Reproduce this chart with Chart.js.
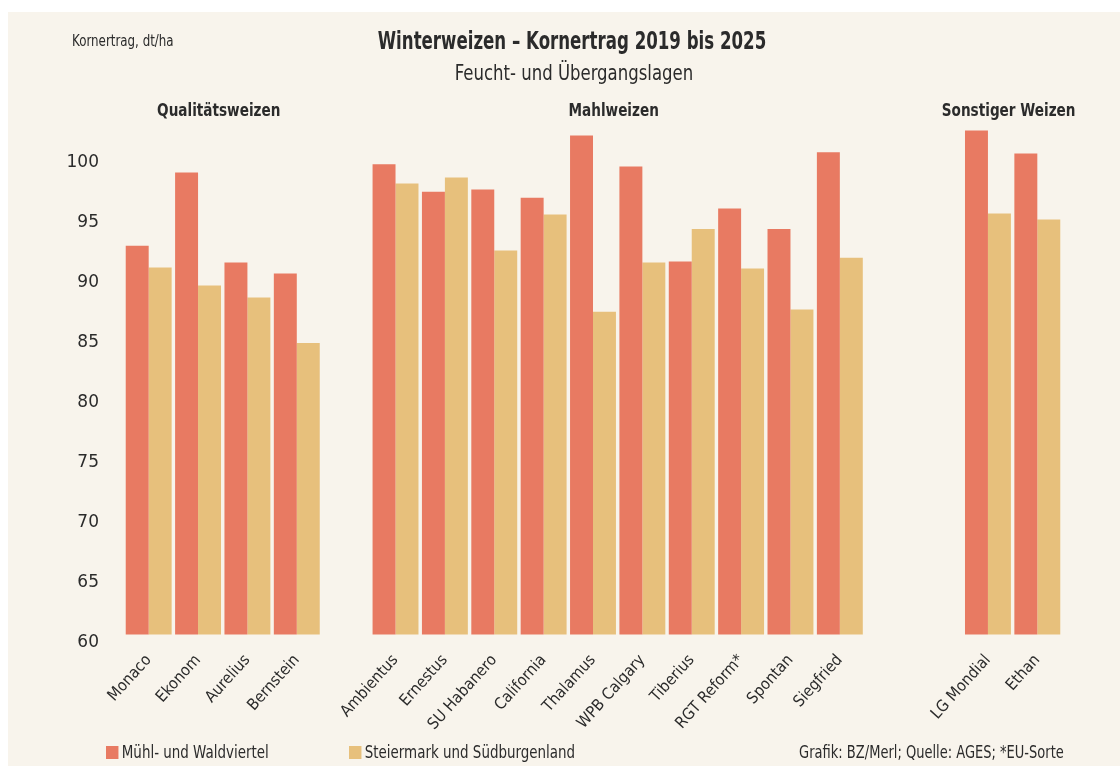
<!DOCTYPE html>
<html>
<head>
<meta charset="utf-8">
<script src="https://cdn.jsdelivr.net/npm/chart.js@4.4.1/dist/chart.umd.min.js"></script>
<style>
  body { margin: 0; background: #fff; }
  #paper { position: absolute; left: 8px; top: 12px; width: 1112px; height: 754px; background: #f8f4ec; }
  #myChart { position: absolute; left: 0; top: 0; }
  .txt { position: absolute; color: #2b2b2b; font-family: 'Liberation Sans Narrow', 'DejaVu Sans Condensed', 'Roboto Condensed', sans-serif; white-space: nowrap; line-height: 1; }
  #title { left: 0; width: 1144px; top: 29px; text-align: center; font-size: 24px; font-weight: bold; transform: scaleX(0.77); }
  #subtitle { left: 0; width: 1148px; top: 62px; text-align: center; font-size: 22px; transform: scaleX(0.835); }
  #unit { left: 72px; top: 34px; font-size: 15px; transform: scaleX(0.88); transform-origin: left; }
  .leg { top: 743px; font-size: 18px; transform: scaleX(0.83); transform-origin: left; }
  .leg span { display: inline-block; width: 15px; height: 13px; margin-right: 4px; vertical-align: -1px; }
  #source { right: 56px; top: 743px; font-size: 18px; transform: scaleX(0.805); transform-origin: right; }
</style>
</head>
<body>
<div id="paper"></div>
<canvas id="myChart" width="1120" height="766"></canvas>
<div class="txt" id="title">Winterweizen – Kornertrag 2019 bis 2025</div>
<div class="txt" id="subtitle">Feucht- und Übergangslagen</div>
<div class="txt" id="unit">Kornertrag, dt/ha</div>
<div class="txt leg" style="left:106px"><span style="background:#e87a62"></span>Mühl- und Waldviertel</div>
<div class="txt leg" style="left:349px"><span style="background:#e7c07c"></span>Steiermark und Südburgenland</div>
<div class="txt" id="source">Grafik: BZ/Merl; Quelle: AGES; *EU-Sorte</div>
<script>
// Sorten, leere Einträge trennen die Gruppen
sorten = ['Monaco', 'Ekonom', 'Aurelius', 'Bernstein', '',
  'Ambientus', 'Ernestus', 'SU Habanero', 'California', 'Thalamus',
  'WPB Calgary', 'Tiberius', 'RGT Reform*', 'Spontan', 'Siegfried', '', '',
  'LG Mondial', 'Ethan'];

// Kornertrag dt/ha
muehl_waldviertel = [93.1, 99.2, 91.7, 90.8, null,
  99.9, 97.6, 97.8, 97.1, 102.3, 99.7, 91.8, 96.2, 94.5, 100.9, null, null,
  102.7, 100.8];
steiermark_suedburgenland = [91.3, 89.8, 88.8, 85.0, null,
  98.3, 98.8, 92.7, 95.7, 87.6, 91.7, 94.5, 91.2, 87.8, 92.1, null, null,
  95.8, 95.3];

gruppen = [
  { name: 'Qualitätsweizen', from: 0, to: 3 },
  { name: 'Mahlweizen', from: 5, to: 14 },
  { name: 'Sonstiger Weizen', from: 17, to: 18 }
];

y_ticks = [60, 65, 70, 75, 80, 85, 90, 95, 100];

const COND = "'Liberation Sans Narrow', 'DejaVu Sans Condensed', 'Roboto Condensed', sans-serif";

// Gruppenüberschriften über den Balken
const groupLabels = {
  id: 'groupLabels',
  afterDraw(chart) {
    const ctx = chart.ctx;
    const x = chart.scales.x;
    ctx.fillStyle = '#2b2b2b';
    ctx.font = 'bold 18px ' + COND;
    ctx.textAlign = 'center';
    ctx.textBaseline = 'middle';
    gruppen.forEach(g => {
      const cx = (x.getPixelForValue(g.from) + x.getPixelForValue(g.to)) / 2;
      ctx.save();
      ctx.translate(cx - 4, 111);
      ctx.scale(0.84, 1);
      ctx.fillText(g.name, 0, 0);
      ctx.restore();
    });
  }
};

const data = {
  labels: sorten,
  datasets: [{
    label: 'Mühl- und Waldviertel',
    data: muehl_waldviertel,
    backgroundColor: '#e87a62',
    base: 60.7
  },
  {
    label: 'Steiermark und Südburgenland',
    data: steiermark_suedburgenland,
    backgroundColor: '#e7c07c',
    base: 60.7
  }]
};

const config = {
  type: 'bar',
  data: data,
  options: {
    responsive: false,
    animation: false,
    categoryPercentage: 0.93,
    barPercentage: 1,
    layout: { padding: { left: 0, right: 58, top: 103, bottom: 0 } },
    plugins: {
      legend: { display: false },
      tooltip: { enabled: false }
    },
    scales: {
      x: {
        grid: { display: false },
        border: { display: false },
        ticks: {
          autoSkip: false,
          minRotation: 48,
          maxRotation: 48,
          padding: 0,
          color: '#2b2b2b',
          font: { family: COND, size: 16 }
        },
        afterFit: function(scale) { scale.height = 123; }
      },
      y: {
        min: 60,
        max: 105,
        grid: { display: false, drawTicks: false },
        border: { display: false },
        afterBuildTicks: function(scale) {
          scale.ticks = y_ticks.map(v => ({ value: v }));
        },
        ticks: {
          padding: 25,
          color: '#2b2b2b',
          font: { family: "'DejaVu Sans', sans-serif", size: 17 }
        },
        afterFit: function(scale) { scale.width = 124; }
      }
    }
  },
  plugins: [groupLabels]
};

const myChart = new Chart(document.getElementById('myChart'), config);
</script>
</body>
</html>
